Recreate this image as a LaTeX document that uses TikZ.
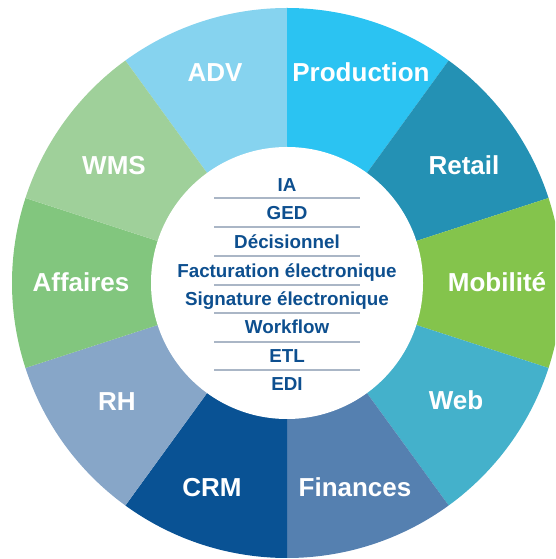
\documentclass[tikz,border=0pt]{standalone}
\usepackage{fontspec}
\setmainfont{Liberation Sans}
\definecolor{cADV}{HTML}{86D3EF}
\definecolor{cProd}{HTML}{2BC3F2}
\definecolor{cRetail}{HTML}{2491B4}
\definecolor{cMob}{HTML}{84C44C}
\definecolor{cWeb}{HTML}{44B1CB}
\definecolor{cFin}{HTML}{5580B0}
\definecolor{cCRM}{HTML}{095294}
\definecolor{cRH}{HTML}{87A6C8}
\definecolor{cAff}{HTML}{82C67E}
\definecolor{cWMS}{HTML}{9FD09A}
\definecolor{cText}{HTML}{0D4F8F}
\definecolor{cSep}{HTML}{AAB6C6}
\begin{document}
\begin{tikzpicture}[x=1pt,y=1pt,
  seglabel/.style={text=white,font=\fontsize{26}{28}\selectfont\bfseries,inner sep=0pt,anchor=base},
  hublabel/.style={text=cText,font=\fontsize{18.8}{20}\selectfont\bfseries,inner sep=0pt,anchor=base},
  sepline/.style={draw=cSep,line width=1.2pt}]
\useasboundingbox (0,0) rectangle (555,559);
\clip (0,0) rectangle (555,559);
\coordinate (c) at (287,276);
\foreach \a/\col in {90/cADV,54/cProd,18/cRetail,-18/cMob,-54/cWeb,-90/cFin,-126/cCRM,-162/cRH,162/cAff,126/cWMS}{
  \fill[\col] (c) -- ++(\a:275) arc[start angle=\a,delta angle=36,radius=275] -- cycle;
}
\node[circle,fill=white,minimum size=272,inner sep=0pt] (hub) at (c) {};
% outer labels
\node[seglabel] (adv) at (215,477) {ADV};
\node[seglabel] (prod) at (361,477) {Production};
\node[seglabel] (retail) at (464,384) {Retail};
\node[seglabel] (mob) at (497,267) {Mobilité};
\node[seglabel] (web) at (456,149) {Web};
\node[seglabel] (fin) at (355,62) {Finances};
\node[seglabel] (crm) at (212,62) {CRM};
\node[seglabel] (rh) at (117,148) {RH};
\node[seglabel] (aff) at (81,267) {Affaires};
\node[seglabel] (wms) at (114,384) {WMS};
% hub labels
\node[hublabel] (ia) at (287,367) {IA};
\node[hublabel] (ged) at (287,339) {GED};
\node[hublabel] (dec) at (287,310) {Décisionnel};
\node[hublabel] (fact) at (287,281) {Facturation électronique};
\node[hublabel] (sig) at (287,253) {Signature électronique};
\node[hublabel] (wf) at (287,225) {Workflow};
\node[hublabel] (etl) at (287,196) {ETL};
\node[hublabel] (edi) at (287,168) {EDI};
\foreach \y in {361,332,303,274,246,217,189}{
  \draw[sepline] (214,\y) -- (360,\y);
}
\end{tikzpicture}
\end{document}
